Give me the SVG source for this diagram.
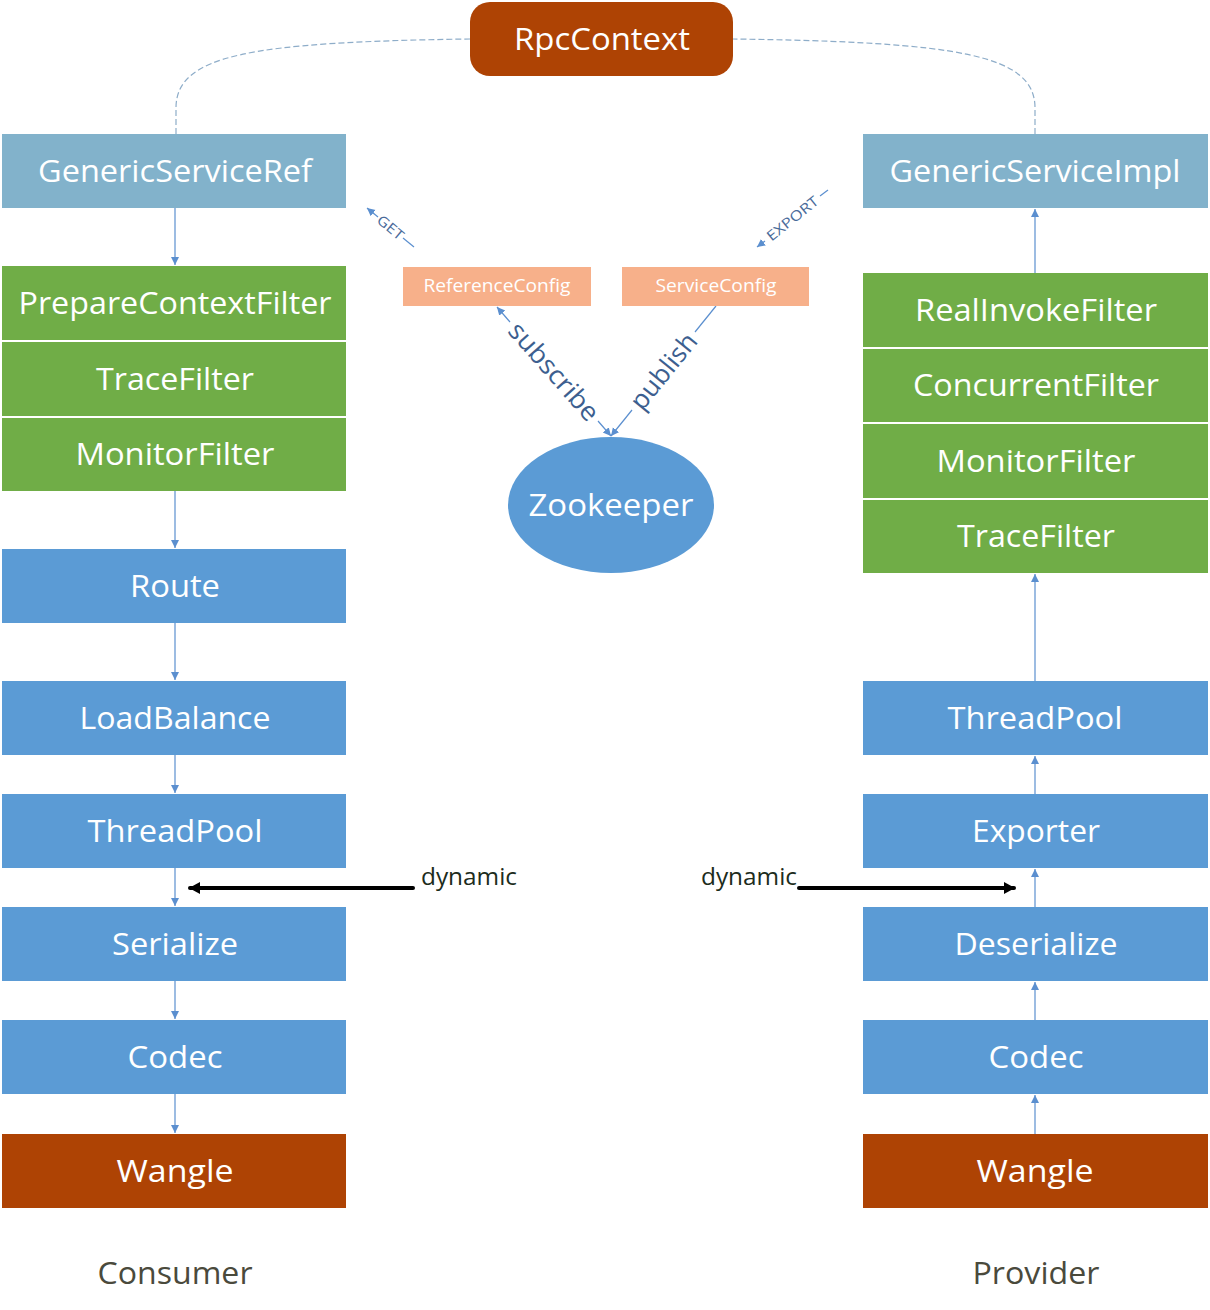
<svg xmlns="http://www.w3.org/2000/svg" width="1210" height="1310" viewBox="0 0 1210 1310">
<style>
  text { font-family: "Open Sans", "Noto Sans", "DejaVu Sans", sans-serif; }
  .lbl { fill: #ffffff; font-size: 31px; text-anchor: middle; }
  .small { fill: #ffffff; font-size: 18px; text-anchor: middle; }
  .side { fill: #4a4a3c; font-size: 31px; text-anchor: middle; }
  .dyn { fill: #1c2c1c; font-size: 24px; }
  .rot { fill: #3d5f8f; font-size: 26px; text-anchor: middle; }
  .rots { fill: #4a6b9a; font-size: 14px; text-anchor: middle; }
  .lb { fill: #82B2CB; }
  .gr { fill: #70AD47; }
  .bl { fill: #5B9BD5; }
  .or { fill: #AE4304; }
  .pe { fill: #F7B08A; }
  .conn { stroke: #5B8FCF; stroke-width: 1.2; fill: none; }
  .dash { stroke: #8EADC9; stroke-width: 1.2; fill: none; stroke-dasharray: 6 3; }
  .thick { stroke: #000000; stroke-width: 4; fill: none; stroke-linecap: round; }
</style>
<defs>
  <marker id="ah" markerUnits="userSpaceOnUse" markerWidth="10" markerHeight="10" refX="8" refY="4" orient="auto">
    <path d="M0,0 L8,4 L0,8 Z" fill="#5B8FCF"/>
  </marker>
  <marker id="ahs" markerUnits="userSpaceOnUse" markerWidth="10" markerHeight="10" refX="8" refY="4" orient="auto-start-reverse">
    <path d="M0,0 L8,4 L0,8 Z" fill="#5B8FCF"/>
  </marker>
  <marker id="ahk" markerUnits="userSpaceOnUse" markerWidth="14" markerHeight="14" refX="10" refY="6" orient="auto">
    <path d="M0,0 L11,6 L0,12 Z" fill="#000000"/>
  </marker>
</defs>
<rect x="0" y="0" width="1210" height="1310" fill="#ffffff"/>

<g id="connectors">
  <!-- dashed RpcContext links -->
  <path class="dash" d="M176,134 L176,108 C176,55 250,42 470,39"/>
  <path class="dash" d="M1035,134 L1035,108 C1035,55 960,42 733,39"/>
  <!-- left chain (down) -->
  <line class="conn" x1="175" y1="208" x2="175" y2="265" marker-end="url(#ah)"/>
  <line class="conn" x1="175" y1="491" x2="175" y2="548" marker-end="url(#ah)"/>
  <line class="conn" x1="175" y1="623" x2="175" y2="680" marker-end="url(#ah)"/>
  <line class="conn" x1="175" y1="755" x2="175" y2="793" marker-end="url(#ah)"/>
  <line class="conn" x1="175" y1="868" x2="175" y2="906" marker-end="url(#ah)"/>
  <line class="conn" x1="175" y1="981" x2="175" y2="1019" marker-end="url(#ah)"/>
  <line class="conn" x1="175" y1="1094" x2="175" y2="1133" marker-end="url(#ah)"/>
  <!-- right chain (up) -->
  <line class="conn" x1="1035" y1="273" x2="1035" y2="209" marker-end="url(#ah)"/>
  <line class="conn" x1="1035" y1="681" x2="1035" y2="574" marker-end="url(#ah)"/>
  <line class="conn" x1="1035" y1="794" x2="1035" y2="756" marker-end="url(#ah)"/>
  <line class="conn" x1="1035" y1="907" x2="1035" y2="869" marker-end="url(#ah)"/>
  <line class="conn" x1="1035" y1="1020" x2="1035" y2="982" marker-end="url(#ah)"/>
  <line class="conn" x1="1035" y1="1134" x2="1035" y2="1095" marker-end="url(#ah)"/>
  <!-- GET -->
  <line class="conn" x1="414" y1="247" x2="403" y2="238"/>
  <line class="conn" x1="378" y1="217" x2="367" y2="208" marker-end="url(#ah)"/>
  <text class="rots" transform="translate(390.5,227.5) rotate(39.7)" y="5" textLength="30" lengthAdjust="spacingAndGlyphs">GET</text>
  <!-- EXPORT -->
  <line class="conn" x1="828" y1="190" x2="820" y2="196"/>
  <line class="conn" x1="765" y1="241" x2="757" y2="247" marker-end="url(#ah)"/>
  <text class="rots" transform="translate(792.5,218.5) rotate(-38.8)" y="5" textLength="62" lengthAdjust="spacingAndGlyphs">EXPORT</text>
  <!-- subscribe -->
  <line class="conn" x1="510" y1="322" x2="497" y2="307" marker-end="url(#ah)"/>
  <line class="conn" x1="598" y1="421" x2="611" y2="436" marker-end="url(#ah)"/>
  <text class="rot" transform="translate(554,371.5) rotate(48.5)" y="9" textLength="122" lengthAdjust="spacingAndGlyphs">subscribe</text>
  <!-- publish -->
  <line class="conn" x1="716" y1="306" x2="695" y2="332"/>
  <line class="conn" x1="632" y1="410" x2="611" y2="436" marker-end="url(#ah)"/>
  <text class="rot" transform="translate(663.5,371) rotate(-51)" y="9" textLength="90" lengthAdjust="spacingAndGlyphs">publish</text>
  <!-- dynamic -->
  <line class="thick" x1="413" y1="888" x2="190" y2="888" marker-end="url(#ahk)"/>
  <line class="thick" x1="799" y1="888" x2="1014" y2="888" marker-end="url(#ahk)"/>
  <text class="dyn" x="421" y="885" textLength="96" lengthAdjust="spacingAndGlyphs">dynamic</text>
  <text class="dyn" x="701" y="885" textLength="96" lengthAdjust="spacingAndGlyphs">dynamic</text>
</g>

<g id="rpccontext">
  <rect class="or" x="470" y="2" width="263" height="74" rx="20" ry="20"/>
  <text class="lbl" x="602" y="50" textLength="176" lengthAdjust="spacingAndGlyphs" font-size="32">RpcContext</text>
</g>

<g id="generic-service-ref">
  <rect class="lb" x="2" y="134" width="344" height="74"/>
  <text class="lbl" x="175" y="182" textLength="274" lengthAdjust="spacingAndGlyphs">GenericServiceRef</text>
</g>
<g id="prepare-context-filter">
  <rect class="gr" x="2" y="266" width="344" height="74"/>
  <text class="lbl" x="175" y="314" textLength="313" lengthAdjust="spacingAndGlyphs">PrepareContextFilter</text>
</g>
<g id="consumer-trace-filter">
  <rect class="gr" x="2" y="342" width="344" height="74"/>
  <text class="lbl" x="175" y="390" textLength="158" lengthAdjust="spacingAndGlyphs">TraceFilter</text>
</g>
<g id="consumer-monitor-filter">
  <rect class="gr" x="2" y="418" width="344" height="73"/>
  <text class="lbl" x="175" y="465" textLength="199" lengthAdjust="spacingAndGlyphs">MonitorFilter</text>
</g>
<g id="route">
  <rect class="bl" x="2" y="549" width="344" height="74"/>
  <text class="lbl" x="175" y="597" textLength="90" lengthAdjust="spacingAndGlyphs">Route</text>
</g>
<g id="loadbalance">
  <rect class="bl" x="2" y="681" width="344" height="74"/>
  <text class="lbl" x="175" y="729" textLength="191" lengthAdjust="spacingAndGlyphs">LoadBalance</text>
</g>
<g id="consumer-threadpool">
  <rect class="bl" x="2" y="794" width="344" height="74"/>
  <text class="lbl" x="175" y="842" textLength="175" lengthAdjust="spacingAndGlyphs">ThreadPool</text>
</g>
<g id="serialize">
  <rect class="bl" x="2" y="907" width="344" height="74"/>
  <text class="lbl" x="175" y="955" textLength="126" lengthAdjust="spacingAndGlyphs">Serialize</text>
</g>
<g id="consumer-codec">
  <rect class="bl" x="2" y="1020" width="344" height="74"/>
  <text class="lbl" x="175" y="1068" textLength="95" lengthAdjust="spacingAndGlyphs">Codec</text>
</g>
<g id="consumer-wangle">
  <rect class="or" x="2" y="1134" width="344" height="74"/>
  <text class="lbl" x="175" y="1182" textLength="117" lengthAdjust="spacingAndGlyphs">Wangle</text>
</g>
<g id="consumer-label">
  <text class="side" x="175" y="1284" textLength="155" lengthAdjust="spacingAndGlyphs">Consumer</text>
</g>

<g id="generic-service-impl">
  <rect class="lb" x="863" y="134" width="345" height="74"/>
  <text class="lbl" x="1035" y="182" textLength="291" lengthAdjust="spacingAndGlyphs">GenericServiceImpl</text>
</g>
<g id="real-invoke-filter">
  <rect class="gr" x="863" y="273" width="345" height="74"/>
  <text class="lbl" x="1036" y="321" textLength="242" lengthAdjust="spacingAndGlyphs">RealInvokeFilter</text>
</g>
<g id="concurrent-filter">
  <rect class="gr" x="863" y="349" width="345" height="73"/>
  <text class="lbl" x="1036" y="396" textLength="246" lengthAdjust="spacingAndGlyphs">ConcurrentFilter</text>
</g>
<g id="provider-monitor-filter">
  <rect class="gr" x="863" y="424" width="345" height="74"/>
  <text class="lbl" x="1036" y="472" textLength="199" lengthAdjust="spacingAndGlyphs">MonitorFilter</text>
</g>
<g id="provider-trace-filter">
  <rect class="gr" x="863" y="500" width="345" height="73"/>
  <text class="lbl" x="1036" y="547" textLength="158" lengthAdjust="spacingAndGlyphs">TraceFilter</text>
</g>
<g id="provider-threadpool">
  <rect class="bl" x="863" y="681" width="345" height="74"/>
  <text class="lbl" x="1035" y="729" textLength="175" lengthAdjust="spacingAndGlyphs">ThreadPool</text>
</g>
<g id="exporter">
  <rect class="bl" x="863" y="794" width="345" height="74"/>
  <text class="lbl" x="1036" y="842" textLength="128" lengthAdjust="spacingAndGlyphs">Exporter</text>
</g>
<g id="deserialize">
  <rect class="bl" x="863" y="907" width="345" height="74"/>
  <text class="lbl" x="1036" y="955" textLength="163" lengthAdjust="spacingAndGlyphs">Deserialize</text>
</g>
<g id="provider-codec">
  <rect class="bl" x="863" y="1020" width="345" height="74"/>
  <text class="lbl" x="1036" y="1068" textLength="95" lengthAdjust="spacingAndGlyphs">Codec</text>
</g>
<g id="provider-wangle">
  <rect class="or" x="863" y="1134" width="345" height="74"/>
  <text class="lbl" x="1035" y="1182" textLength="117" lengthAdjust="spacingAndGlyphs">Wangle</text>
</g>
<g id="provider-label">
  <text class="side" x="1036" y="1284" textLength="127" lengthAdjust="spacingAndGlyphs">Provider</text>
</g>

<g id="reference-config">
  <rect class="pe" x="403" y="267" width="188" height="39"/>
  <text class="small" x="497" y="292" textLength="147" lengthAdjust="spacingAndGlyphs">ReferenceConfig</text>
</g>
<g id="service-config">
  <rect class="pe" x="622" y="267" width="187" height="39"/>
  <text class="small" x="716" y="292" textLength="121" lengthAdjust="spacingAndGlyphs">ServiceConfig</text>
</g>
<g id="zookeeper">
  <ellipse class="bl" cx="611" cy="505" rx="103" ry="68"/>
  <text class="lbl" x="611" y="516" font-size="32" textLength="165" lengthAdjust="spacingAndGlyphs">Zookeeper</text>
</g>
</svg>
